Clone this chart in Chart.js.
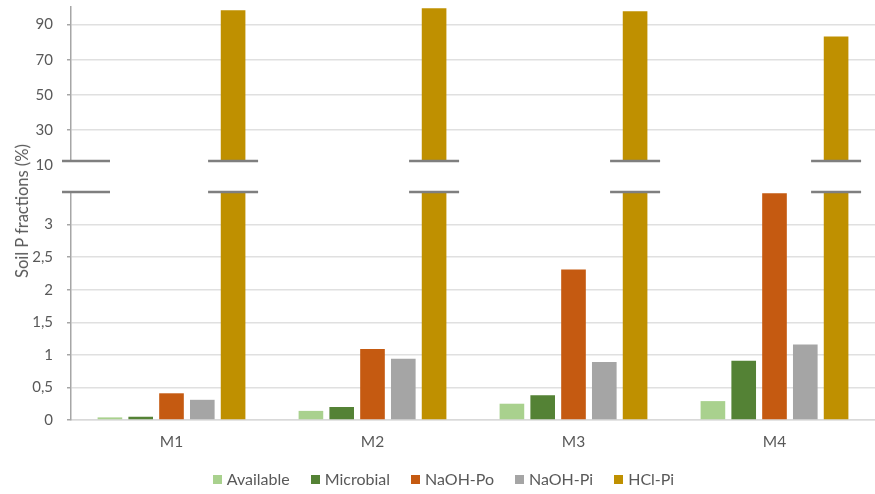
<!DOCTYPE html>
<html>
<head>
<meta charset="utf-8">
<script src="https://cdn.jsdelivr.net/npm/chart.js@4/dist/chart.umd.min.js"></script>
<style>
  html, body { margin: 0; padding: 0; background: #ffffff; }
  #wrap { position: relative; width: 875px; height: 494px; overflow: hidden; font-family: Lato, "Open Sans", sans-serif; }
  #topBox { position: absolute; left: 0; top: 0; width: 875px; height: 180px; }
  #botBox { position: absolute; left: 0; top: 180px; width: 875px; height: 314px; }
  #ytitle {
    position: absolute; left: 22px; top: 211px;
    transform: translate(-50%, -50%) rotate(-90deg);
    white-space: nowrap; color: #595959; font-size: 16.5px;
  }
  #legend {
    position: absolute; left: 6px; top: 468px; width: 875px; height: 22px;
    display: flex; justify-content: center; align-items: center; gap: 21px;
    color: #595959; font-size: 16px; line-height: 22px;
  }
  #legend .item { display: flex; align-items: center; white-space: nowrap; }
  #legend .swatch { width: 9px; height: 9px; margin-right: 5px; }
</style>
</head>
<body>
<div id="wrap">
  <div id="topBox"><canvas id="topChart" width="875" height="180"></canvas></div>
  <div id="botBox"><canvas id="botChart" width="875" height="314"></canvas></div>
  <div id="ytitle">Soil P fractions (%)</div>
  <div id="legend"></div>
</div>
<script>
// Soil P fractions per treatment (%)
const categories = ['M1', 'M2', 'M3', 'M4'];
const available  = [0.04, 0.14, 0.25, 0.29];
const microbial  = [0.05, 0.20, 0.38, 0.91];
const naohPo     = [0.41, 1.09, 2.31, 3.48];
const naohPi     = [0.31, 0.94, 0.89, 1.16];
const hclPi      = [98.2, 99.3, 97.6, 83.2];

const seriesNames = ['Available', 'Microbial', 'NaOH-Po', 'NaOH-Pi', 'HCl-Pi'];
const seriesColors = ['#a9d18e', '#548235', '#c55a11', '#a5a5a5', '#bf9000'];

// y-axis segments of the broken axis
const lowerTicks = [0, 0.5, 1, 1.5, 2, 2.5, 3];
const upperTicks = [10, 30, 50, 70, 90];
const lowerRange = [0, 3.5];
const upperRange = [12.5, 100];

const TEXT = '#595959';
const GRID = '#e0e0e0';
const AXIS = '#a6a6a6';
const FONT = 'Lato';

function makeDatasets() {
  return [available, microbial, naohPo, naohPi, hclPi].map((d, i) => ({
    label: seriesNames[i],
    data: d,
    backgroundColor: seriesColors[i],
    borderWidth: 0,
    categoryPercentage: 0.766,
    barPercentage: 0.8
  }));
}

// short horizontal marks where the value axis is interrupted
function breakMarks(edge) {
  return {
    id: 'breakMarks',
    afterDatasetsDraw(chart) {
      const { ctx, chartArea } = chart;
      const y = edge === 'bottom' ? chartArea.bottom : chartArea.top;
      const meta = chart.getDatasetMeta(4);
      ctx.save();
      ctx.strokeStyle = '#7f7f7f';
      ctx.lineWidth = 2.5;
      ctx.beginPath();
      ctx.moveTo(chartArea.left - 9, y);
      ctx.lineTo(chartArea.left + 39, y);
      meta.data.forEach(bar => {
        ctx.moveTo(bar.x - 25, y);
        ctx.lineTo(bar.x + 25, y);
      });
      ctx.stroke();
      ctx.restore();
    }
  };
}

// fixed axis sizes, no extra room reserved for edge labels
const fixValueAxis = s => { s.width = 71; s.paddingTop = 0; s.paddingBottom = 0; };
const fixCategoryAxis = s => { s.height = 40; s.paddingLeft = 0; s.paddingRight = 0; };

const decimalComma = v => String(v).replace('.', ',');

// upper segment: 12.5 – 100 %
new Chart(document.getElementById('topChart'), {
  type: 'bar',
  data: { labels: categories, datasets: makeDatasets() },
  options: {
    responsive: false,
    animation: false,
    layout: { padding: { top: 7, bottom: 19, left: 0, right: 0 } },
    plugins: { legend: { display: false }, tooltip: { enabled: false } },
    scales: {
      x: { display: false },
      y: {
        min: upperRange[0],
        max: upperRange[1],
        afterBuildTicks: s => { s.ticks = upperTicks.map(v => ({ value: v })); },
        afterFit: fixValueAxis,
        ticks: { color: TEXT, font: { family: FONT, size: 15 }, padding: 14 },
        grid: {
          color: c => (c.tick && c.tick.value < upperRange[0]) ? 'rgba(0,0,0,0)' : GRID,
          tickColor: c => (c.tick && c.tick.value < upperRange[0]) ? 'rgba(0,0,0,0)' : AXIS,
          lineWidth: 1.5,
          tickLength: 4
        },
        border: { color: AXIS, width: 1.5 }
      }
    }
  },
  plugins: [breakMarks('bottom')]
});

// lower segment: 0 – 3.5 %
new Chart(document.getElementById('botChart'), {
  type: 'bar',
  data: { labels: categories, datasets: makeDatasets() },
  options: {
    responsive: false,
    animation: false,
    layout: { padding: { top: 12, bottom: 34, left: 0, right: 0 } },
    plugins: { legend: { display: false }, tooltip: { enabled: false } },
    scales: {
      x: {
        afterFit: fixCategoryAxis,
        grid: { display: false, drawTicks: false },
        border: { color: '#d9d9d9', width: 1.5 },
        ticks: { color: TEXT, font: { family: FONT, size: 15.5 }, padding: 13 }
      },
      y: {
        min: lowerRange[0],
        max: lowerRange[1],
        afterBuildTicks: s => { s.ticks = lowerTicks.map(v => ({ value: v })); },
        afterFit: fixValueAxis,
        ticks: { color: TEXT, font: { family: FONT, size: 15 }, padding: 14, callback: v => decimalComma(v) },
        grid: { color: GRID, tickColor: AXIS, lineWidth: 1.5, tickLength: 4 },
        border: { color: AXIS, width: 1.5 }
      }
    }
  },
  plugins: [breakMarks('top')]
});

// series key under the chart
const legendBox = document.getElementById('legend');
seriesNames.forEach((name, i) => {
  const item = document.createElement('span');
  item.className = 'item';
  const sw = document.createElement('span');
  sw.className = 'swatch';
  sw.style.background = seriesColors[i];
  item.appendChild(sw);
  item.appendChild(document.createTextNode(name));
  legendBox.appendChild(item);
});
</script>
</body>
</html>
